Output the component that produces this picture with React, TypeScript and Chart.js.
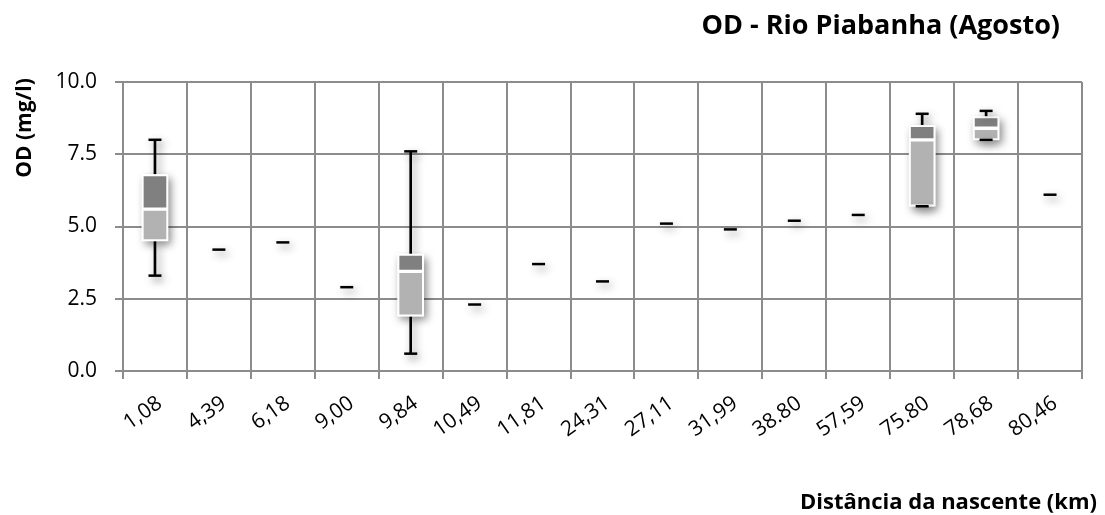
import React, { useEffect, useRef } from 'react';
import { Chart, registerables } from 'chart.js';

Chart.register(...registerables);

const categories = ['1,08', '4,39', '6,18', '9,00', '9,84', '10,49', '11,81', '24,31', '27,11', '31,99', '38.80', '57,59', '75.80', '78,68', '80,46'];
const minValues = [3.3, 4.2, 4.45, 2.9, 0.6, 2.3, 3.7, 3.1, 5.1, 4.9, 5.2, 5.4, 5.7, 8.0, 6.1];
const q1Values = [4.5, null, null, null, 1.9, null, null, null, null, null, null, null, 5.7, 8.0, null];
const medianValues = [5.6, null, null, null, 3.45, null, null, null, null, null, null, null, 8.0, 8.4, null];
const q3Values = [6.8, null, null, null, 4.05, null, null, null, null, null, null, null, 8.5, 8.8, null];
const maxValues = [8.0, null, null, null, 7.6, null, null, null, null, null, null, null, 8.9, 9.0, null];
const yTicks = [0, 2.5, 5.0, 7.5, 10.0];

const chartTitle = 'OD - Rio Piabanha (Agosto)';
const xTitle = 'Distância da nascente (km)';
const yTitle = 'OD (mg/l)';

const FONT = "'Open Sans', sans-serif";
const GRID = '#8c8c8c';

const pair = (a: (number | null)[], b: (number | null)[]) =>
  a.map((v, i) => (v == null || b[i] == null ? null : [v as number, b[i] as number]));

const shadowPlugin = {
  id: 'shadow',
  beforeDatasetDraw(chart: any, args: any) {
    const ds = chart.data.datasets[args.index];
    if (!ds.castShadow) return;
    const ctx = chart.ctx;
    ctx.save();
    ctx.shadowColor = 'rgba(0,0,0,0.45)';
    ctx.shadowBlur = 8;
    ctx.shadowOffsetX = 3;
    ctx.shadowOffsetY = 4;
  },
  afterDatasetDraw(chart: any, args: any) {
    const ds = chart.data.datasets[args.index];
    if (!ds.castShadow) return;
    chart.ctx.restore();
  },
};

const titlePlugin = {
  id: 'titles',
  afterDraw(chart: any) {
    const ctx = chart.ctx;
    ctx.save();
    ctx.fillStyle = '#000';
    ctx.textBaseline = 'alphabetic';
    ctx.textAlign = 'right';
    ctx.font = `bold 27px ${FONT}`;
    ctx.fillText(chartTitle, 1060, 34);
    ctx.font = `bold 22px ${FONT}`;
    ctx.fillText(xTitle, 1097, 509);
    ctx.translate(31, 128);
    ctx.rotate(-Math.PI / 2);
    ctx.textAlign = 'center';
    ctx.font = `bold 21px ${FONT}`;
    ctx.fillText(yTitle, 0, 0);
    ctx.restore();
  },
};

export default function App() {
  const ref = useRef<HTMLCanvasElement>(null);
  useEffect(() => {
    if (!ref.current) return;
    const chart = new Chart(ref.current, {
      type: 'bar',
      data: {
        labels: categories,
        datasets: [
          {
            type: 'line',
            label: 'min',
            data: minValues,
            showLine: false,
            pointStyle: 'line',
            pointRadius: 6.5,
            pointBorderWidth: 2.5,
            borderColor: '#000',
            backgroundColor: '#000',
            castShadow: true,
          } as any,
          {
            type: 'line',
            label: 'max',
            data: maxValues,
            showLine: false,
            pointStyle: 'line',
            pointRadius: 6.5,
            pointBorderWidth: 2.5,
            borderColor: '#000',
            backgroundColor: '#000',
            castShadow: true,
          } as any,
          {
            label: 'upper box',
            data: pair(medianValues, q3Values) as any,
            backgroundColor: '#808080',
            borderColor: '#ffffff',
            borderWidth: 2,
            borderSkipped: false,
            barThickness: 26,
            grouped: false,
          },
          {
            label: 'lower box',
            data: pair(q1Values, medianValues) as any,
            backgroundColor: '#b2b2b2',
            borderColor: '#ffffff',
            borderWidth: 2,
            borderSkipped: false,
            barThickness: 26,
            grouped: false,
          },
          {
            label: 'box shadow',
            data: pair(q1Values, q3Values) as any,
            backgroundColor: '#ffffff',
            barThickness: 26,
            grouped: false,
            castShadow: true,
          } as any,
          {
            label: 'upper whisker',
            data: pair(q3Values, maxValues) as any,
            backgroundColor: '#000',
            barThickness: 2,
            grouped: false,
            castShadow: true,
          } as any,
          {
            label: 'lower whisker',
            data: pair(minValues, q1Values) as any,
            backgroundColor: '#000',
            barThickness: 2,
            grouped: false,
            castShadow: true,
          } as any,
        ],
      },
      options: {
        responsive: false,
        animation: false,
        layout: { padding: { left: 0, right: 23, top: 82, bottom: 44 } },
        plugins: {
          legend: { display: false },
          title: { display: false },
          tooltip: { enabled: false },
        },
        scales: {
          x: {
            offset: true,
            grid: { color: GRID, lineWidth: 2, offset: true, tickLength: 8 },
            border: { color: GRID, width: 2 },
            ticks: {
              color: '#000',
              font: { family: FONT, size: 21 },
              minRotation: 35,
              maxRotation: 35,
              padding: 12,
              labelOffset: 5,
              autoSkip: false,
            },
            afterFit(scale: any) {
              scale.height = 100;
            },
          },
          y: {
            min: 0,
            max: 10,
            afterBuildTicks(scale: any) {
              scale.ticks = yTicks.map((v) => ({ value: v }));
            },
            grid: { color: GRID, lineWidth: 2, tickLength: 8 },
            border: { color: GRID, width: 2 },
            ticks: {
              color: '#000',
              font: { family: FONT, size: 21 },
              padding: 18,
              callback: (v: any) => Number(v).toFixed(1),
            },
            afterFit(scale: any) {
              scale.width = 123;
            },
          },
        },
      },
      plugins: [shadowPlugin, titlePlugin],
    });
    return () => chart.destroy();
  }, []);
  return (
    <div style={{ position: 'fixed', left: 0, top: 0, width: 1105, height: 515, background: '#fff' }}>
      <canvas ref={ref} width={1105} height={515} style={{ width: 1105, height: 515, display: 'block' }} />
    </div>
  );
}
